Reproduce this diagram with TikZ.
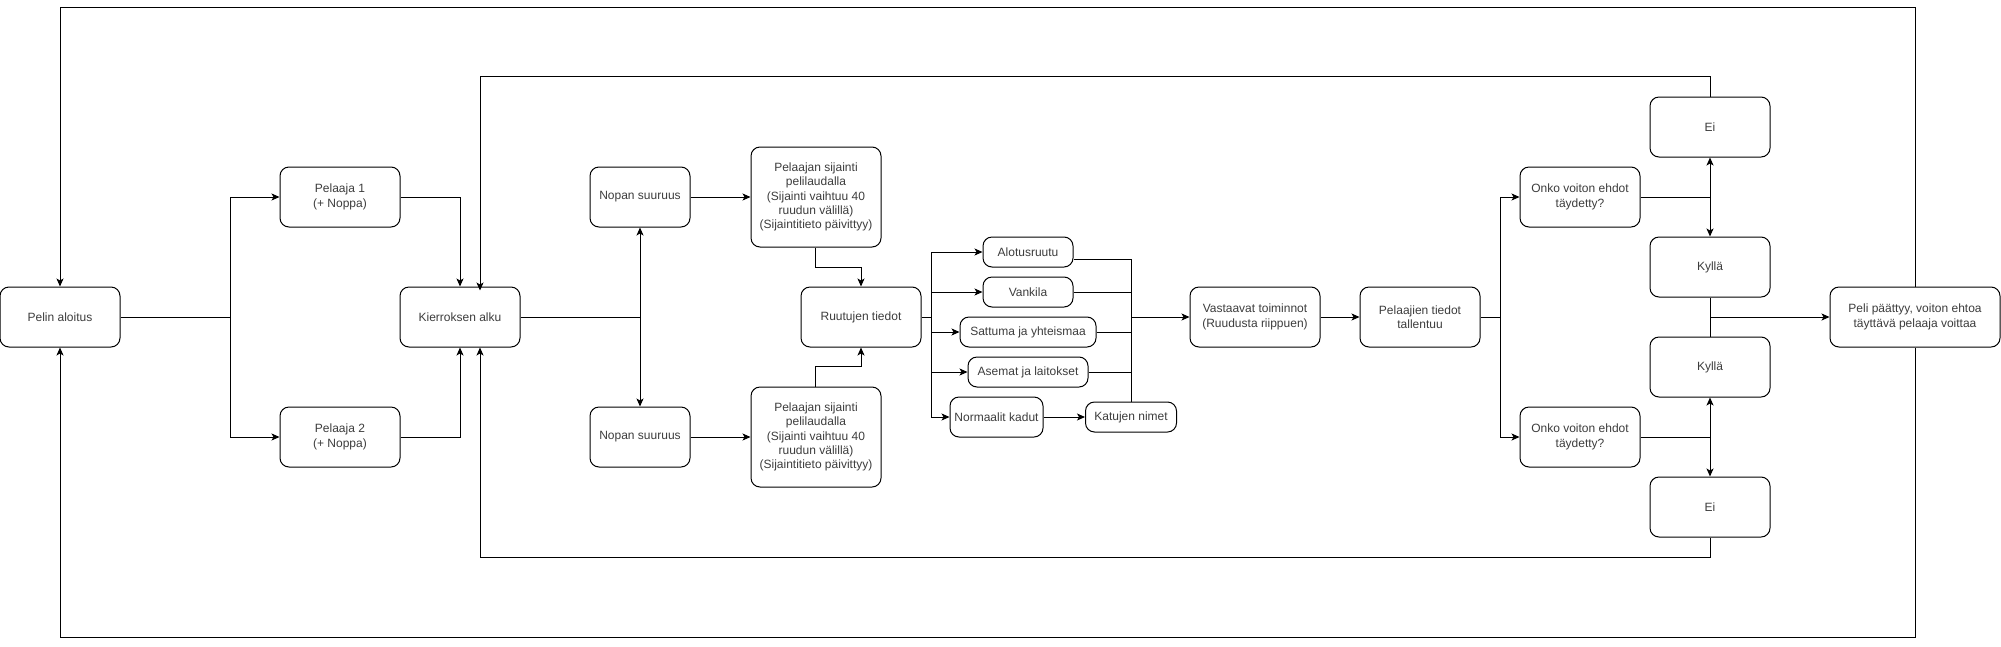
\documentclass[tikz,border=0pt]{standalone}
\usepackage{fontspec}
\setmainfont{Liberation Sans}
\usetikzlibrary{arrows.meta}
\definecolor{txt}{RGB}{60,60,60}
\tikzset{
  box/.style={draw=black, line width=1pt, rounded corners=9pt, align=center, text=txt,
    font=\fontsize{12}{14.4}\selectfont, inner sep=0pt},
  arr/.style={line width=1pt, -{Stealth[length=8pt,width=7pt,inset=2pt]}},
  arrb/.style={line width=1pt, {Stealth[length=8pt,width=7pt,inset=2pt]}-{Stealth[length=8pt,width=7pt,inset=2pt]}},
  ln/.style={line width=1pt},
}
\begin{document}
\begin{tikzpicture}[x=1pt,y=-1pt]
\useasboundingbox (0,0) rectangle (2001,646);
% nodes
\node[box, minimum width=120pt, minimum height=60pt] (start) at (60,317) {Pelin aloitus};
\node[box, minimum width=120pt, minimum height=60pt] (p1) at (340,197) {Pelaaja 1\\(+ Noppa)};
\node[box, minimum width=120pt, minimum height=60pt] (p2) at (340,437) {Pelaaja 2\\(+ Noppa)};
\node[box, minimum width=120pt, minimum height=60pt] (kier) at (460,317) {Kierroksen alku};
\node[box, minimum width=100pt, minimum height=60pt] (nop1) at (640,197) {Nopan suuruus};
\node[box, minimum width=100pt, minimum height=60pt] (nop2) at (640,437) {Nopan suuruus};
\node[box, minimum width=130pt, minimum height=100pt] (sij1) at (816,197) {Pelaajan sijainti\\pelilaudalla\\(Sijainti vaihtuu 40\\ruudun välillä)\\(Sijaintitieto päivittyy)};
\node[box, minimum width=130pt, minimum height=100pt] (sij2) at (816,437) {Pelaajan sijainti\\pelilaudalla\\(Sijainti vaihtuu 40\\ruudun välillä)\\(Sijaintitieto päivittyy)};
\node[box, minimum width=120pt, minimum height=60pt] (ruut) at (861,317) {Ruutujen tiedot};
\node[box, minimum width=90pt, minimum height=30pt] (alot) at (1028,252) {Alotusruutu};
\node[box, minimum width=90pt, minimum height=30pt] (vank) at (1028,292) {Vankila};
\node[box, minimum width=136pt, minimum height=30pt] (satt) at (1028,332) {Sattuma ja yhteismaa};
\node[box, minimum width=120pt, minimum height=30pt] (asem) at (1028,372) {Asemat ja laitokset};
\node[box, minimum width=93pt, minimum height=40pt] (norm) at (996.5,417) {Normaalit kadut};
\node[box, minimum width=91pt, minimum height=30pt] (katu) at (1131,417) {Katujen nimet};
\node[box, minimum width=130pt, minimum height=60pt] (vast) at (1255,317) {Vastaavat toiminnot\\(Ruudusta riippuen)};
\node[box, minimum width=120pt, minimum height=60pt] (tall) at (1420,317) {Pelaajien tiedot\\tallentuu};
\node[box, minimum width=120pt, minimum height=60pt] (onko1) at (1580,197) {Onko voiton ehdot\\täydetty?};
\node[box, minimum width=120pt, minimum height=60pt] (onko2) at (1580,437) {Onko voiton ehdot\\täydetty?};
\node[box, minimum width=120pt, minimum height=60pt] (ei1) at (1710,127) {Ei};
\node[box, minimum width=120pt, minimum height=60pt] (kyl1) at (1710,267) {Kyllä};
\node[box, minimum width=120pt, minimum height=60pt] (kyl2) at (1710,367) {Kyllä};
\node[box, minimum width=120pt, minimum height=60pt] (ei2) at (1710,507) {Ei};
\node[box, minimum width=170pt, minimum height=60pt] (peli) at (1915,317) {Peli päättyy, voiton ehtoa\\täyttävä pelaaja voittaa};
% coordinates
\coordinate (b1) at (230,317);
\coordinate (b2) at (640,317);
\coordinate (b3) at (931,317);
\coordinate (b4) at (1500,317);
\coordinate (ctop) at (1915,7);
\coordinate (cbot) at (1915,637);
\coordinate (d1) at (1710,197);
\coordinate (d2) at (1710,437);
\coordinate (d3) at (1710,317);
% connectors
\draw[ln] (start.east) -- (b1);
\draw[arr] (b1) |- (p1.west);
\draw[arr] (b1) |- (p2.west);
\draw[arr] (p1.east) -| (kier.north);
\draw[arr] (p2.east) -| (kier.south);
\draw[arr] (ei1.north) -- ++(0,-20) -| ([xshift=20pt,yshift=-4pt]kier.north);
\draw[arr] (ei2.south) -- ++(0,20) -| ([xshift=20pt]kier.south);
\draw[arr] (peli.north) -- (ctop) -| (start.north);
\draw[arr] (peli.south) -- (cbot) -| (start.south);
\draw[ln] (kier.east) -- (b2);
\draw[arrb] (nop1.south) -- (nop2.north);
\draw[arr] (nop1.east) -- (sij1.west);
\draw[arr] (nop2.east) -- (sij2.west);
\draw[arr] ([xshift=-1pt]sij1.south) -- ++(0,20) -| (ruut.north);
\draw[arr] ([xshift=-1pt]sij2.north) -- ++(0,-20) -| (ruut.south);
\draw[ln] (ruut.east) -- (b3);
\draw[arr] (b3) |- (alot.west);
\draw[arr] (b3) |- (vank.west);
\draw[arr] (b3) |- (satt.west);
\draw[arr] (b3) |- (asem.west);
\draw[arr] (b3) |- (norm.west);
\draw[arr] (norm.east) -- (katu.west);
\draw[ln] ([yshift=-7pt]alot.east) -| (katu.north);
\draw[ln] (vank.east) -- (vank.east -| katu.north);
\draw[ln] (satt.east) -- (satt.east -| katu.north);
\draw[ln] (asem.east) -- (asem.east -| katu.north);
\draw[arr] (katu.north |- vast.west) -- (vast.west);
\draw[arr] (vast.east) -- (tall.west);
\draw[ln] (tall.east) -- (b4);
\draw[arr] (b4) |- (onko1.west);
\draw[arr] (b4) |- (onko2.west);
\draw[ln] (onko1.east) -- (d1);
\draw[arrb] (ei1.south) -- (kyl1.north);
\draw[ln] (onko2.east) -- (d2);
\draw[arrb] (kyl2.south) -- (ei2.north);
\draw[ln] (kyl1.south) -- (kyl2.north);
\draw[arr] (d3) -- (peli.west);
\end{tikzpicture}
\end{document}
